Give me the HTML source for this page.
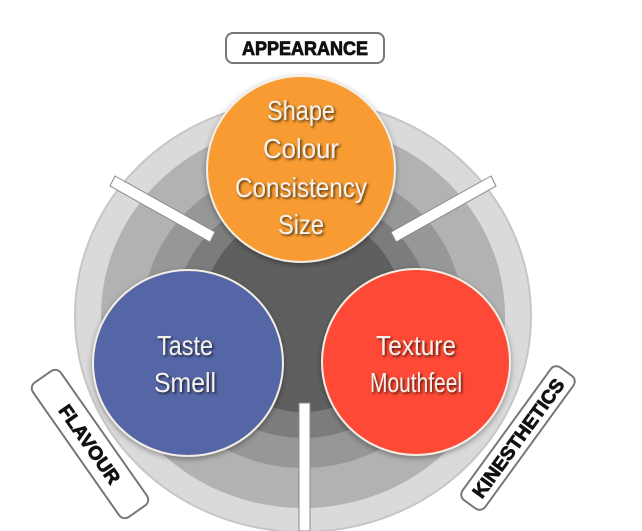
<!DOCTYPE html>
<html><head><meta charset="utf-8"><style>
html,body{margin:0;padding:0;background:#fff;}
svg{display:block;}
.w{font-family:"Liberation Sans",sans-serif;fill:#f4f0ea;font-size:28px;text-anchor:middle;filter:url(#sh);}
.b{font-family:"Liberation Sans",sans-serif;font-weight:bold;fill:#111;stroke:#111;stroke-width:0.8;text-anchor:middle;}
</style></head><body>
<svg width="642" height="531" viewBox="0 0 642 531" xmlns="http://www.w3.org/2000/svg">
<defs>
<filter id="sh" x="-20%" y="-20%" width="140%" height="140%"><feDropShadow dx="1.5" dy="1.5" stdDeviation="1.2" flood-color="#000" flood-opacity="0.7"/></filter>
<filter id="cs" x="-20%" y="-20%" width="140%" height="140%"><feDropShadow dx="0" dy="2" stdDeviation="3" flood-color="#000" flood-opacity="0.35"/></filter>
</defs>
<ellipse cx="303" cy="316" rx="228" ry="216" fill="#dadada" stroke="#c6c6c6" stroke-width="2"/>
<ellipse cx="303" cy="316" rx="202" ry="192" fill="#b2b2b2"/>
<ellipse cx="303" cy="316" rx="160" ry="152" fill="#979797"/>
<ellipse cx="303" cy="316" rx="128" ry="122" fill="#7c7c7c"/>
<ellipse cx="303" cy="312" rx="100" ry="100" fill="#5f5f5f"/>
<g stroke="#888" stroke-width="1" fill="#fff">
<polygon points="115,176 215,232 210,242 110,186"/>
<polygon points="491,176 391,232 396,242 496,186"/>
<rect x="299" y="403" width="11" height="128"/>
</g>
<g filter="url(#cs)">
<ellipse cx="301" cy="169" rx="94" ry="93" fill="#f79b32" stroke="#f3efe6" stroke-width="2"/>
<ellipse cx="188" cy="363" rx="95" ry="93" fill="#5566a6" stroke="#f3efe6" stroke-width="2"/>
<ellipse cx="416" cy="362" rx="94" ry="93" fill="#fd4a35" stroke="#f3efe6" stroke-width="2"/>
</g>
<text class="w" x="301" y="120" textLength="68" lengthAdjust="spacingAndGlyphs">Shape</text>
<text class="w" x="301" y="158" textLength="76" lengthAdjust="spacingAndGlyphs">Colour</text>
<text class="w" x="301" y="197" textLength="132" lengthAdjust="spacingAndGlyphs">Consistency</text>
<text class="w" x="301" y="234" textLength="46" lengthAdjust="spacingAndGlyphs">Size</text>
<text class="w" x="185" y="355" textLength="56" lengthAdjust="spacingAndGlyphs">Taste</text>
<text class="w" x="185" y="392" textLength="62" lengthAdjust="spacingAndGlyphs">Smell</text>
<text class="w" x="416" y="355" textLength="80" lengthAdjust="spacingAndGlyphs">Texture</text>
<text class="w" x="416" y="392" textLength="92" lengthAdjust="spacingAndGlyphs">Mouthfeel</text>
<rect x="226" y="33" width="158" height="30" rx="7" fill="#fff" stroke="#777" stroke-width="2"/>
<text class="b" x="305" y="55" font-size="19" textLength="126" lengthAdjust="spacingAndGlyphs">APPEARANCE</text>
<g transform="translate(90,444) rotate(55)">
<rect x="-82" y="-17" width="164" height="34" rx="7" fill="#fff" stroke="#777" stroke-width="2"/>
<text class="b" x="0" y="7" font-size="19" textLength="92" lengthAdjust="spacingAndGlyphs">FLAVOUR</text>
</g>
<g transform="translate(518,438) rotate(-54)">
<rect x="-82" y="-14" width="164" height="28" rx="7" fill="#fff" stroke="#777" stroke-width="2"/>
<text class="b" x="0" y="7" font-size="19" textLength="142" lengthAdjust="spacingAndGlyphs">KINESTHETICS</text>
</g>
</svg>
</body></html>
